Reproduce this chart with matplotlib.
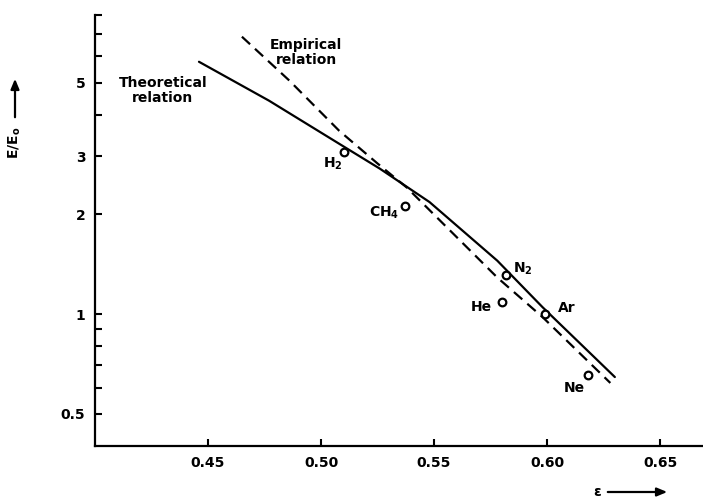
import matplotlib
matplotlib.use("Agg")
import matplotlib.pyplot as plt
from matplotlib.ticker import FixedLocator, NullFormatter

plt.rcParams['font.family'] = ['DejaVu Sans']
plt.rcParams['font.weight'] = 'bold'
plt.rcParams['mathtext.fontset'] = 'dejavusans'

# ---- data ----
theo_eps = [0.446, 0.477, 0.508, 0.526, 0.548, 0.578, 0.598, 0.630]
theo_val = [5.78, 4.41, 3.27, 2.75, 2.18, 1.45, 1.05, 0.646]

emp_eps = [0.465, 0.486, 0.508, 0.525, 0.538, 0.578, 0.598, 0.628]
emp_val = [6.88, 5.07, 3.58, 2.85, 2.41, 1.29, 0.98, 0.62]

gases = [r'$\mathbf{H_2}$', r'$\mathbf{CH_4}$', r'$\mathbf{N_2}$', 'He', 'Ar', 'Ne']
gas_eps = [0.510, 0.537, 0.582, 0.580, 0.599, 0.618]
gas_val = [3.08, 2.12, 1.31, 1.09, 1.00, 0.655]

ytick_vals = [0.5, 1, 2, 3, 5]
ytick_labels = ['0.5', '1', '2', '3', '5']
yminor_vals = [0.6, 0.7, 0.8, 0.9, 4, 6, 7, 8]
xtick_vals = [0.45, 0.50, 0.55, 0.60, 0.65]
xtick_labels = ['0.45', '0.50', '0.55', '0.60', '0.65']

# ---- figure ----
W, H = 703, 503
fig = plt.figure(figsize=(W / 100, H / 100), dpi=100)
ax = fig.add_axes([95 / W, 57 / H, 1 - 95 / W, (446 - 15) / H])
ax.set_yscale('log')
ax.set_xlim(0.40, 0.669)
ax.set_ylim(0.4, 8.0)

for s in ['top', 'right']:
    ax.spines[s].set_visible(False)
for s in ['left', 'bottom']:
    ax.spines[s].set_linewidth(1.6)

ax.yaxis.set_major_locator(FixedLocator(ytick_vals))
ax.set_yticklabels(ytick_labels)
ax.yaxis.set_minor_locator(FixedLocator(yminor_vals))
ax.yaxis.set_minor_formatter(NullFormatter())
ax.set_xticks(xtick_vals)
ax.set_xticklabels(xtick_labels)
ax.tick_params(axis='both', which='both', direction='in', length=5, width=1.5,
               labelsize=10, pad=7)

ax.plot(theo_eps, theo_val, color='black', lw=1.6, solid_capstyle='round')
ax.plot(emp_eps, emp_val, color='black', lw=1.6, linestyle=(0, (5, 3)))
ax.plot(gas_eps, gas_val, 'o', ms=5.5, mfc='white', mec='black', mew=1.6)

offsets = [(-8, -8), (-15, -5), (12, 5), (-15, -3.5), (16, 4.5), (-10, -9.5)]
for name, x, y, off in zip(gases, gas_eps, gas_val, offsets):
    ax.annotate(name, (x, y), xytext=off, textcoords='offset points',
                ha='center', va='center', fontsize=10, fontweight='bold')

ax.text(0.430, 4.73, 'Theoretical\nrelation', ha='center', va='center',
        fontsize=10, fontweight='bold', linespacing=1.1)
ax.text(0.4934, 6.15, 'Empirical\nrelation', ha='center', va='center',
        fontsize=10, fontweight='bold', linespacing=1.1)

# axis labels with arrows
fig.text(15 / W, (H - 143) / H, r'$\mathbf{E/E_o}$', rotation=90, ha='center',
         va='center', fontsize=10, fontweight='bold')
fig.add_artist(matplotlib.patches.FancyArrowPatch(
    (15 / W, (H - 120) / H), (15 / W, (H - 76) / H), transform=fig.transFigure,
    arrowstyle='-|>,head_length=6,head_width=2.5', lw=1.6, color='black'))
fig.text(597 / W, 11 / H, 'ε', ha='center', va='center', fontsize=10,
         fontweight='bold')
fig.add_artist(matplotlib.patches.FancyArrowPatch(
    (605 / W, 11 / H), (670 / W, 11 / H), transform=fig.transFigure,
    arrowstyle='-|>,head_length=6,head_width=2.5', lw=1.6, color='black'))

fig.savefig('out.png', dpi=100)
